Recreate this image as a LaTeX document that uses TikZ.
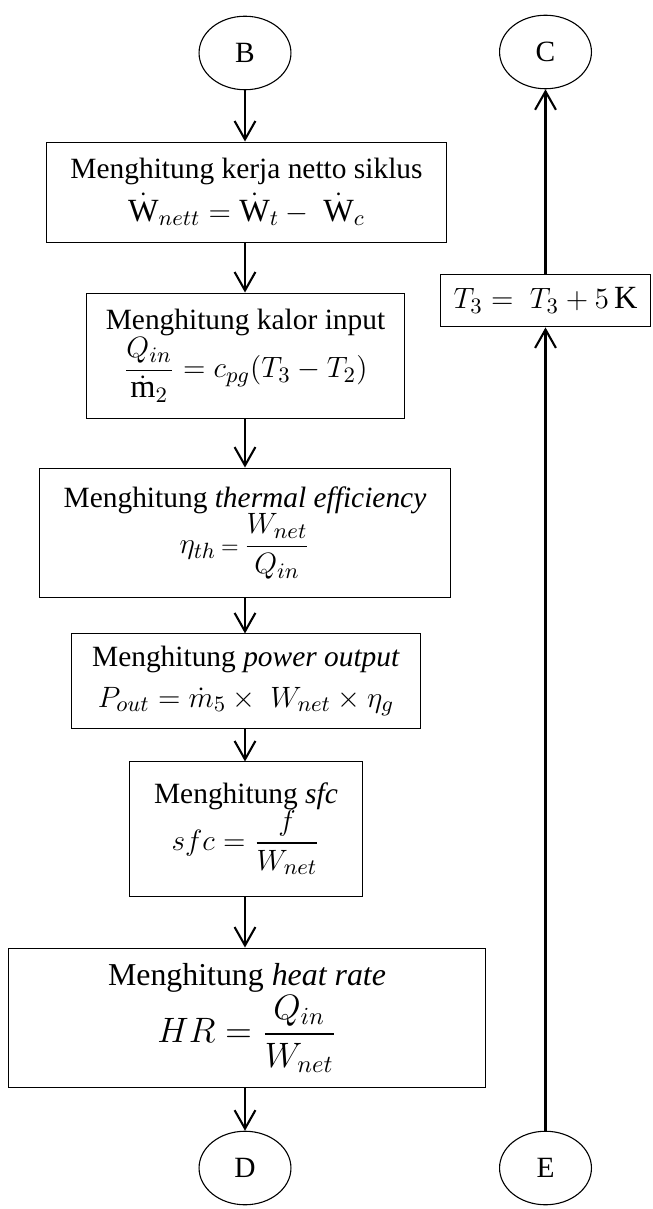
\documentclass[tikz,border=0pt]{standalone}
\usepackage{amsmath}
\usepackage{fontspec}
\setmainfont{Liberation Serif}
\usetikzlibrary{arrows.meta,shapes.geometric}
\newcommand{\eqsize}{\fontsize{13.2}{15}\selectfont}
\newcommand{\eqbig}{\fontsize{14.3}{16.5}\selectfont}
\begin{document}
\begin{tikzpicture}[x=0.408pt,y=-0.408pt,
  conn/.style={draw, ellipse, line width=0.45pt, minimum width=37.5pt, minimum height=30pt, inner sep=0pt, font=\fontsize{12}{14}\selectfont},
  procbox/.style={draw, rectangle, line width=0.4pt, inner sep=0pt, align=center, font=\fontsize{12}{14.5}\selectfont},
  flow/.style={line width=0.85pt, -{Straight Barb[length=7.5pt,width=8.5pt,line width=0.85pt]}}]
\useasboundingbox (0,0) rectangle (652,1209);

% left column
\node[conn] (B) at (245,53) {B};
\node[procbox, minimum width=163.4pt, minimum height=40.8pt] (b1) at (246.5,192)
  {Menghitung kerja netto siklus\\[3pt] {\eqsize$\dot{\mathrm{W}}_{nett} = \dot{\mathrm{W}}_{t} -\ \dot{\mathrm{W}}_{c}$}};
\node[procbox, minimum width=129.5pt, minimum height=51pt] (b2) at (245.5,355.5)
  {Menghitung kalor input\\[0pt] {\eqsize$\dfrac{Q_{in}}{\dot{\mathrm{m}}_{2}} = c_{pg}(T_{3} - T_{2})$}};
\node[procbox, minimum width=167.3pt, minimum height=53pt] (b3) at (245,533)
  {Menghitung \textit{thermal efficiency}\\[-1pt] {\eqsize$\eta_{th}\,{\scriptstyle =}\,\dfrac{W_{net}}{Q_{in}}$}};
\node[procbox, minimum width=142pt, minimum height=38.4pt] (b4) at (246,681)
  {Menghitung \textit{power output}\\[2pt] {\eqsize$P_{out} = \dot{m}_{5} \times\ W_{net} \times \eta_{g}$}};
\node[procbox, minimum width=94.7pt, minimum height=54.7pt] (b5) at (246,829)
  {Menghitung \textit{sfc}\\[-1pt] {\eqsize$sfc = \dfrac{f}{W_{net}}$}};
\node[procbox, minimum width=195pt, minimum height=57.1pt, font=\fontsize{13}{16}\selectfont] (b6) at (247,1018)
  {Menghitung \textit{heat rate}\\[0pt] {\eqbig$HR = \dfrac{Q_{in}}{W_{net}}$}};
\node[conn] (D) at (245,1168) {D};

% right column
\node[conn] (C) at (545.5,52) {C};
\node[procbox, minimum width=86pt, minimum height=21.6pt] (t3) at (545.5,300.5)
  {\eqsize$T_{3} =\ T_{3} + 5\,\mathrm{K}$};
\node[conn] (E) at (545.5,1168) {E};

% connectors
\draw[flow] (B.south) -- (B.south |- b1.north);
\draw[flow] (b1.south -| B) -- (B |- b2.north);
\draw[flow] (b2.south -| B) -- (B |- b3.north);
\draw[flow] (b3.south -| B) -- (B |- b4.north);
\draw[flow] (b4.south -| B) -- (B |- b5.north);
\draw[flow] (b5.south -| B) -- (B |- b6.north);
\draw[flow] (b6.south -| D) -- (D.north);
\draw[flow] (E.north) -- (t3.south);
\draw[flow] (t3.north) -- (C.south);
\end{tikzpicture}
\end{document}
